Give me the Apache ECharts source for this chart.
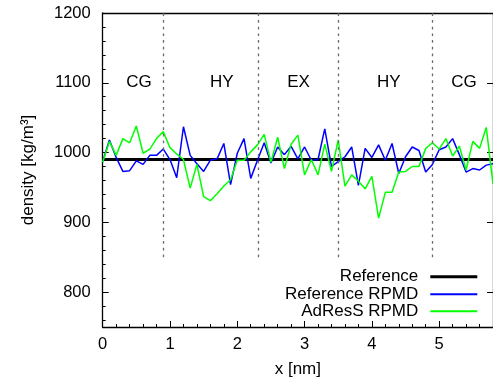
<!DOCTYPE html>
<html>
<head>
<meta charset="utf-8">
<script src="https://cdn.jsdelivr.net/npm/echarts@6/dist/echarts.min.js"></script>
<style>
html,body{margin:0;padding:0;background:#fff;}
#chart{width:493px;height:383px;}
</style>
</head>
<body>
<div id="chart"></div>
<script>
// ---- data ----
const xStep = 0.1; // sample spacing in nm (x = i * xStep)
const refRPMD = [987,1018,993,973,974,988,983,996,996,1005,990,964,1037,996,984,973,989,991,1013,954,
  999,1020,963,989,1014,985,1008,997,1009,991,1008,989,990,1034,980,987,994,1008,953,1006,
  993,1011,989,1013,970,994,1008,1003,972,983,1004,1008,1020,997,972,977,975,982,984];
const adressRPMD = [986,1016,996,1020,1014,1038,999,1005,1020,1030,1007,998,990,949,983,937,931,941,952,961,
  989,989,1001,1011,1026,986,1022,977,1012,1025,968,990,968,1012,973,1018,952,968,959,948,
  966,906,943,943,972,973,980,980,1006,1014,1005,1020,995,1009,975,1016,1006,1036,955];
const referenceX = [0, 5.8];
const referenceY = [990, 990];
const regionBoundaries = [0.9, 2.31, 3.5, 4.9];
const boundaryRange = [850, 1200];
const regionNames = ['CG', 'HY', 'EX', 'HY', 'CG'];
const regionLabelX = [0.54, 1.77, 2.91, 4.25, 5.37];
const regionLabelY = 1100;
const xMajorTicks = [0, 1, 2, 3, 4, 5];
const xMinorTicks = [0.2,0.4,0.6,0.8,1.2,1.4,1.6,1.8,2.2,2.4,2.6,2.8,3.2,3.4,3.6,3.8,4.2,4.4,4.6,4.8,5.2,5.4,5.6];
const yMajorTicks = [800, 900, 1000, 1100, 1200];
const yMinorTicks = [760,780,820,840,860,880,920,940,960,980,1020,1040,1060,1080,1120,1140,1160,1180];
const xRange = [0, 5.8];
const yRange = [750, 1200];
const seriesNames = ['Reference', 'Reference RPMD', 'AdResS RPMD'];

// ---- build ----
const FONT = 'Liberation Sans';
const toXY = arr => arr.map((v, i) => [+(i * xStep).toFixed(2), v]);
const refData = referenceX.map((x, i) => [x, referenceY[i]]);
const labelData = regionLabelX.map((x, i) => [x, regionLabelY, regionNames[i]]);
const boundaryLines = regionBoundaries.map(x => [{coord: [x, boundaryRange[0]]}, {coord: [x, boundaryRange[1]]}]);

const black = '#000000';
const plain = v => String(v);
const baseAxis = {
  min: xRange[0], max: xRange[1], type: 'value', splitLine: {show: false}
};

const chart = echarts.init(document.getElementById('chart'), null, {renderer: 'canvas'});
const legendCommon = (name, top, h) => ({
  data: [name], orient: 'vertical', align: 'right', right: 15.7, top: top, padding: 0,
  itemWidth: 47, itemHeight: h, icon: 'rect', selectedMode: false,
  textStyle: {fontFamily: FONT, fontSize: 17, color: '#000', lineHeight: 17, padding: [0, 7, 0, 0]}
});

chart.setOption({
  animation: false,
  backgroundColor: '#fff',
  grid: {left: 102.7, top: 13, width: 394.4, height: 314.7, containLabel: false},
  xAxis: [
    Object.assign({}, baseAxis, {
      position: 'bottom',
      axisLine: {show: true, onZero: false, lineStyle: {color: black, width: 1.3}},
      axisTick: {show: true, inside: true, length: 6, customValues: xMajorTicks, lineStyle: {color: black, width: 1}},
      axisLabel: {show: true, customValues: xMajorTicks, formatter: plain, margin: 9, fontFamily: FONT, fontSize: 16.5, color: '#000'},
      name: 'x [nm]', nameLocation: 'middle', nameGap: 34,
      nameTextStyle: {fontFamily: FONT, fontSize: 17, color: '#000'}
    }),
    Object.assign({}, baseAxis, {
      position: 'bottom',
      axisLine: {show: false, onZero: false},
      axisTick: {show: true, inside: true, length: 3, customValues: xMinorTicks, lineStyle: {color: black, width: 1}},
      axisLabel: {show: false}
    }),
    Object.assign({}, baseAxis, {
      position: 'top',
      axisLine: {show: true, onZero: false, lineStyle: {color: black, width: 1.3}},
      axisTick: {show: false}, axisLabel: {show: false}
    })
  ],
  yAxis: [
    {
      type: 'value', min: yRange[0], max: yRange[1], position: 'left', splitLine: {show: false},
      axisLine: {show: true, onZero: false, lineStyle: {color: black, width: 1.3}},
      axisTick: {show: true, inside: true, length: 6, customValues: yMajorTicks, lineStyle: {color: black, width: 1}},
      axisLabel: {show: true, customValues: yMajorTicks, formatter: plain, margin: 12, fontFamily: FONT, fontSize: 16.5, color: '#000'},
      name: 'density [kg/m³]', nameLocation: 'middle', nameGap: 66,
      nameTextStyle: {fontFamily: FONT, fontSize: 17, color: '#000'}
    },
    {
      type: 'value', min: yRange[0], max: yRange[1], position: 'left', splitLine: {show: false},
      axisLine: {show: false, onZero: false},
      axisTick: {show: true, inside: true, length: 3, customValues: yMinorTicks, lineStyle: {color: black, width: 1}},
      axisLabel: {show: false}
    },
    {
      type: 'value', min: yRange[0], max: yRange[1], position: 'right', splitLine: {show: false},
      axisLine: {show: true, onZero: false, lineStyle: {color: black, width: 1.3}},
      axisTick: {show: true, inside: true, length: 6, customValues: yMajorTicks, lineStyle: {color: black, width: 1}},
      axisLabel: {show: false}
    }
  ],
  legend: [
    legendCommon(seriesNames[0], 268.2, 3),
    legendCommon(seriesNames[1], 285.8, 2),
    legendCommon(seriesNames[2], 302.8, 2)
  ],
  series: [
    {
      name: seriesNames[0], type: 'line', data: refData, symbol: 'none', showSymbol: false,
      itemStyle: {color: '#000'}, lineStyle: {color: '#000', width: 3}, z: 2,
      markLine: {
        silent: true, symbol: ['none', 'none'], label: {show: false},
        lineStyle: {color: '#6a6a6a', width: 1.3, type: [2.7, 4], opacity: 1},
        emphasis: {disabled: true},
        data: boundaryLines
      }
    },
    {
      name: seriesNames[1], type: 'line', data: toXY(refRPMD), symbol: 'none', showSymbol: false,
      itemStyle: {color: '#0000ff'}, lineStyle: {color: '#0000ff', width: 1.5}, z: 3
    },
    {
      name: seriesNames[2], type: 'line', data: toXY(adressRPMD), symbol: 'none', showSymbol: false,
      itemStyle: {color: '#00ff00'}, lineStyle: {color: '#00ff00', width: 1.5}, z: 4
    },
    {
      name: 'regions', type: 'scatter', data: labelData, symbolSize: 0, silent: true,
      itemStyle: {opacity: 1},
      label: {show: true, position: 'inside', formatter: p => p.data[2], fontFamily: FONT, fontSize: 17, color: '#000', opacity: 1, textBorderWidth: 0},
      z: 5
    }
  ]
});
</script>
</body>
</html>
